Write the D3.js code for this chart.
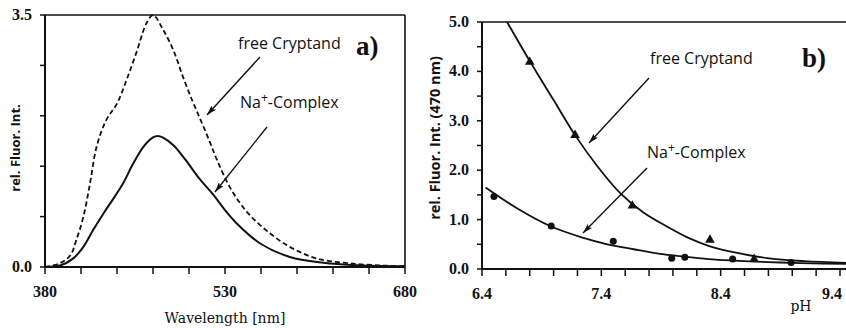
<!DOCTYPE html>
<html>
<head>
<meta charset="utf-8">
<script src="https://cdn.jsdelivr.net/npm/d3@7/dist/d3.min.js"></script>
<style>
  html, body { margin: 0; padding: 0; background: #fff; }
  svg { display: block; }
  .tick-label { font-family: "Liberation Serif", serif; font-size: 16px; font-weight: bold; fill: #111; }
  .axis-title { font-family: "DejaVu Serif", serif; font-size: 14px; fill: #111; }
  .y-title { font-family: "Open Sans", sans-serif; font-weight: bold; fill: #111; }
  .note { font-family: "Open Sans", sans-serif; font-size: 16px; fill: #111; }
  .panel-tag { font-family: "Liberation Serif", serif; font-size: 27px; font-weight: bold; fill: #111; }
</style>
</head>
<body>
<svg id="chart" width="846" height="328"></svg>
<script>
// panel a: emission spectra (wavelength nm, rel. intensity)
const wlCryptand = [380, 392, 401, 406, 412, 417.5, 423, 431, 440, 448, 456, 464.7, 470, 478.6, 487, 495, 503, 510, 517, 523, 534, 548, 565, 584, 606, 634, 662, 680];
const fluorCryptand = [0, 0.05, 0.16, 0.37, 0.7, 1.16, 1.67, 2.04, 2.27, 2.6, 2.97, 3.39, 3.5, 3.29, 3.01, 2.64, 2.3, 2.03, 1.75, 1.5, 1.11, 0.77, 0.5, 0.28, 0.12, 0.05, 0.02, 0.01];
const wlComplex = [380, 392.5, 403.6, 412, 420, 428.6, 437, 445, 453.6, 462, 470, 474, 478, 487, 497, 509, 520, 531, 540, 559, 584, 612, 640, 680];
const fluorComplex = [0, 0.02, 0.12, 0.28, 0.51, 0.74, 0.95, 1.16, 1.44, 1.67, 1.8, 1.82, 1.8, 1.69, 1.49, 1.22, 1.01, 0.77, 0.6, 0.33, 0.14, 0.06, 0.025, 0.01];
const wlTicks = [380, 410, 440, 470, 500, 530, 560, 590, 620, 650, 680];
const wlLabels = [380, 530, 680];
const fluorTicks = [0, 0.7, 1.4, 2.1, 2.8, 3.5];
const fluorLabels = [0, 3.5];

// panel b: pH titration at 470 nm
const phCryptandPts = [6.8, 7.18, 7.66, 8.31, 8.68];
const valCryptandPts = [4.19, 2.71, 1.28, 0.59, 0.2];
const phComplexPts = [6.5, 6.98, 7.5, 7.99, 8.1, 8.5, 8.99];
const valComplexPts = [1.47, 0.87, 0.56, 0.22, 0.24, 0.2, 0.13];
const phCryptandFit = [6.61, 6.805, 7.0, 7.18, 7.37, 7.56, 7.75, 7.95, 8.13, 8.31, 8.55, 8.79, 9.1, 9.5];
const valCryptandFit = [5.0, 4.19, 3.42, 2.71, 2.07, 1.53, 1.15, 0.86, 0.63, 0.46, 0.32, 0.22, 0.16, 0.12];
const phComplexFit = [6.43, 6.7, 6.98, 7.25, 7.45, 7.67, 7.88, 8.09, 8.3, 8.51, 8.8, 9.07, 9.5];
const valComplexFit = [1.65, 1.22, 0.86, 0.63, 0.5, 0.4, 0.31, 0.25, 0.2, 0.17, 0.14, 0.12, 0.1];
const phTicks = d3.range(6.4, 9.61, 0.2);
const phLabels = [6.4, 7.4, 8.4, 9.4];
const intTicks = d3.range(0, 5.01, 0.5);
const intLabels = [0, 1, 2, 3, 4, 5];

const svg = d3.select("#chart");

svg.append("defs").append("marker")
    .attr("id", "head")
    .attr("viewBox", "0 0 10 6")
    .attr("refX", 10).attr("refY", 3)
    .attr("markerWidth", 10).attr("markerHeight", 6)
    .attr("markerUnits", "userSpaceOnUse")
    .attr("orient", "auto")
  .append("path")
    .attr("d", "M0,0 L10,3 L0,6 L2,3 Z")
    .attr("fill", "#111");

function frame(g, x, y, ticksX, labelsX, ticksY, labelsY, fmtX, fmtY, xEnd) {
    const [x0] = x.range();
    const [y0, y1] = y.range();
    g.append("line").attr("x1", x0).attr("x2", xEnd).attr("y1", y0).attr("y2", y0)
        .attr("stroke", "#111").attr("stroke-width", 2);
    g.append("line").attr("x1", x0).attr("x2", x0).attr("y1", y0).attr("y2", y1)
        .attr("stroke", "#111").attr("stroke-width", 2);
    g.append("line").attr("x1", x0).attr("x2", xEnd).attr("y1", y1).attr("y2", y1)
        .attr("stroke", "#111").attr("stroke-width", 1.6);

    // ticks point outward
    g.selectAll(".xt").data(ticksX).enter().append("line")
        .attr("x1", d => x(d)).attr("x2", d => x(d))
        .attr("y1", y0).attr("y2", y0 + 7)
        .attr("stroke", "#111").attr("stroke-width", 1.5);
    g.selectAll(".yt").data(ticksY).enter().append("line")
        .attr("x1", x0 - 5).attr("x2", x0)
        .attr("y1", d => y(d)).attr("y2", d => y(d))
        .attr("stroke", "#111").attr("stroke-width", 1.5);

    g.selectAll(".xl").data(labelsX).enter().append("text")
        .attr("class", "tick-label")
        .attr("x", d => Math.min(x(d), 832)).attr("y", y0 + 30)
        .attr("text-anchor", "middle")
        .text(fmtX);
    g.selectAll(".yl").data(labelsY).enter().append("text")
        .attr("class", "tick-label")
        .attr("x", x0 - 13).attr("y", d => y(d) + 5)
        .attr("text-anchor", "end")
        .text(fmtY);
}

function note(g, x, y, txt) {
    g.append("text").attr("class", "note").attr("x", x).attr("y", y).text(txt);
}
function naNote(g, x, y) {
    g.append("text").attr("class", "note").attr("x", x).attr("y", y)
        .html('Na<tspan dy="-6" font-size="12">+</tspan><tspan dy="6">-Complex</tspan>');
}
function arrow(g, x1, y1, x2, y2) {
    g.append("line").attr("x1", x1).attr("y1", y1).attr("x2", x2).attr("y2", y2)
        .attr("stroke", "#111").attr("stroke-width", 1.4).attr("marker-end", "url(#head)");
}

// ---- panel a
const xa = d3.scaleLinear().domain([380, 680]).range([45, 405]);
const ya = d3.scaleLinear().domain([0, 3.5]).range([267, 15]);
const ga = svg.append("g");
frame(ga, xa, ya, wlTicks, wlLabels, fluorTicks, fluorLabels, d3.format("d"), d3.format(".1f"), 405);
ga.append("line").attr("x1", 405).attr("x2", 405).attr("y1", 15).attr("y2", 267)
    .attr("stroke", "#111").attr("stroke-width", 1.6);

const lineA = d3.line().x(d => xa(d[0])).y(d => ya(d[1])).curve(d3.curveCatmullRom);
ga.append("path")
    .attr("d", lineA(d3.zip(wlCryptand, fluorCryptand)))
    .attr("fill", "none").attr("stroke", "#111").attr("stroke-width", 1.8)
    .attr("stroke-dasharray", "5,3");
ga.append("path")
    .attr("d", lineA(d3.zip(wlComplex, fluorComplex)))
    .attr("fill", "none").attr("stroke", "#111").attr("stroke-width", 2);

ga.append("text").attr("class", "y-title")
    .attr("transform", "translate(20,148) rotate(-90)")
    .attr("text-anchor", "middle").style("font-size", "13px")
    .text("rel. Fluor. Int.");
ga.append("text").attr("class", "axis-title")
    .attr("x", 225).attr("y", 323).attr("text-anchor", "middle")
    .text("Wavelength [nm]");
note(ga, 238, 49, "free Cryptand");
naNote(ga, 240, 108);
ga.append("text").attr("class", "panel-tag").attr("x", 356).attr("y", 55).text("a)");
arrow(ga, 260, 57, 207, 115);
arrow(ga, 267, 127, 215, 192);

// ---- panel b
const xb = d3.scaleLinear().domain([6.4, 9.4]).range([482, 840]);
const yb = d3.scaleLinear().domain([0, 5]).range([269, 22]);
const gb = svg.append("g");
frame(gb, xb, yb, phTicks.filter(d => xb(d) <= 846), phLabels, intTicks, intLabels,
      d3.format(".1f"), d3.format(".1f"), 846);

const lineB = d3.line().x(d => xb(d[0])).y(d => yb(d[1])).curve(d3.curveCatmullRom);
gb.append("path")
    .attr("d", lineB(d3.zip(phCryptandFit, valCryptandFit)))
    .attr("fill", "none").attr("stroke", "#111").attr("stroke-width", 1.8);
gb.append("path")
    .attr("d", lineB(d3.zip(phComplexFit, valComplexFit)))
    .attr("fill", "none").attr("stroke", "#111").attr("stroke-width", 1.8);

gb.selectAll(".tri").data(d3.zip(phCryptandPts, valCryptandPts)).enter().append("path")
    .attr("transform", d => `translate(${xb(d[0])},${yb(d[1])})`)
    .attr("d", d3.symbol(d3.symbolTriangle, 40))
    .attr("fill", "#111");
gb.selectAll(".dot").data(d3.zip(phComplexPts, valComplexPts)).enter().append("circle")
    .attr("cx", d => xb(d[0])).attr("cy", d => yb(d[1])).attr("r", 3.5)
    .attr("fill", "#111");

gb.append("text").attr("class", "y-title")
    .attr("transform", "translate(440,138) rotate(-90)")
    .attr("text-anchor", "middle").style("font-size", "14.5px")
    .text("rel. Fluor. Int. (470 nm)");
gb.append("text").attr("class", "axis-title")
    .attr("x", 801).attr("y", 311).attr("text-anchor", "middle")
    .text("pH");
note(gb, 650, 64, "free Cryptand");
naNote(gb, 647, 158);
gb.append("text").attr("class", "panel-tag").attr("x", 802).attr("y", 67).text("b)");
arrow(gb, 649, 78, 589, 143);
arrow(gb, 647, 168, 583, 233);
</script>
</body>
</html>
